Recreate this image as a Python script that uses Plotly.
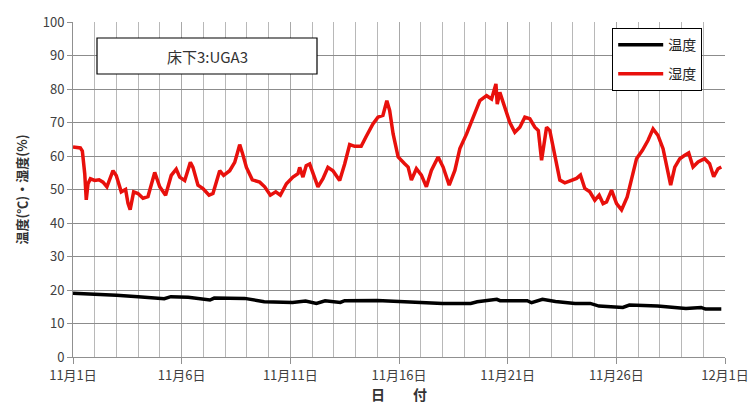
import plotly.graph_objects as go

# Days since 11/1 (0 = 11月1日, 30 = 12月1日)
hum_days = [0, 0.34, 0.43, 0.54, 0.61, 0.69, 0.8, 1.0, 1.2, 1.38, 1.56, 1.84, 1.99, 2.22, 2.42, 2.53, 2.63, 2.79, 2.99,
            3.22, 3.45, 3.76, 3.99, 4.26, 4.52, 4.75, 4.91, 5.14, 5.4, 5.52, 5.75, 5.98, 6.26, 6.44, 6.75, 6.93,
            7.21, 7.44, 7.59, 7.67, 7.79, 7.98, 8.25, 8.59, 8.82, 9.08, 9.33, 9.54, 9.82, 10.12, 10.35, 10.43,
            10.58, 10.73, 10.89, 11.07, 11.27, 11.5, 11.73, 11.96, 12.27, 12.5, 12.73, 12.96, 13.26, 13.49,
            13.8, 14.03, 14.26, 14.44, 14.57, 14.73, 14.96, 15.26, 15.42, 15.57, 15.8, 16.03, 16.26, 16.49,
            16.8, 17.03, 17.31, 17.57, 17.8, 18.11, 18.41, 18.57, 18.72, 19.03, 19.26, 19.46, 19.52, 19.64,
            19.87, 20.1, 20.33, 20.56, 20.79, 21.02, 21.25, 21.41, 21.56, 21.79, 21.94, 22.17, 22.4, 22.63,
            22.94, 23.17, 23.35, 23.55, 23.78, 24.01, 24.21, 24.39, 24.55, 24.78, 25.01, 25.24, 25.5, 25.74,
            25.93, 26.2, 26.46, 26.69, 26.92, 27.15, 27.34, 27.5, 27.69, 27.92, 28.15, 28.33, 28.53, 28.76,
            29.06, 29.29, 29.48, 29.68, 29.83]
humidity = [62.7, 62.4, 61.5, 54.7, 46.9, 51.7, 53.2, 52.7, 52.9, 52.2, 50.8, 55.6, 54.2, 49.3, 50.0, 45.9, 44.0,
            49.3, 48.8, 47.4, 47.9, 55.1, 50.8, 48.3, 54.2, 56.1, 53.7, 52.7, 58.1, 56.6, 51.3, 50.3, 48.3, 48.8,
            55.6, 54.2, 55.6, 58.1, 61.5, 63.4, 61.0, 56.6, 52.9, 52.2, 50.8, 48.3, 49.3, 48.3, 51.7, 53.7, 54.7,
            56.6, 53.7, 57.1, 57.6, 54.2, 50.8, 53.2, 56.6, 55.6, 52.7, 57.6, 63.4, 62.9, 62.9, 65.8,
            69.6, 71.6, 72.1, 76.5, 73.6, 66.6, 59.7, 57.7, 56.7, 52.8, 56.2, 54.3, 50.8, 55.7,
            59.7, 56.7, 51.3, 55.7, 62.2, 66.6, 71.6, 73.6, 76.5, 78.0, 77.0, 81.5, 75.5, 79.0,
            74.6, 70.0, 67.1, 68.6, 71.6, 71.1, 68.6, 67.6, 58.7, 68.6, 67.6, 60.7, 52.8, 52.0,
            52.6, 53.3, 54.3, 50.3, 49.3, 46.8, 48.3, 45.8, 46.3, 49.8, 45.8, 43.9, 47.8, 54.8,
            59.2, 61.7, 64.7, 68.1, 66.1, 62.2, 55.7, 51.3, 56.7, 59.2, 60.2, 60.9, 56.7, 58.2,
            59.2, 57.7, 53.8, 56.2, 56.7]

temp_days = [0, 1.0, 2.0, 3.0, 4.2, 4.5, 5.3, 6.3, 6.5, 7.9, 8.8, 10.1, 10.7, 11.2, 11.6, 12.3, 12.5, 14.0,
             15.3, 16.26, 17.0, 18.3, 18.6, 19.5, 19.65, 20.9, 21.1, 21.6, 22.2, 23.1, 23.8, 24.2, 25.3, 25.6,
             26.9, 28.2, 28.9, 29.1, 29.83]
temperature = [19.0, 18.8, 18.4, 18.0, 17.4, 18.0, 17.8, 17.0, 17.6, 17.5, 16.5, 16.3, 16.7, 16.0, 16.8, 16.3, 16.8, 16.9,
               16.5, 16.0, 16.0, 16.0, 16.5, 17.2, 16.8, 16.8, 16.2, 17.2, 16.6, 16.0, 16.0, 15.2, 14.8, 15.5,
               15.2, 14.5, 14.8, 14.3, 14.3]

tick_days = [0, 5, 10, 15, 20, 25, 30]
tick_labels = ["11月1日", "11月6日", "11月11日", "11月16日", "11月21日", "11月26日", "12月1日"]
y_ticks = [0, 10, 20, 30, 40, 50, 60, 70, 80, 90, 100]

FONT = "Noto Sans CJK JP"

fig = go.Figure()
fig.add_trace(go.Scatter(x=temp_days, y=temperature, mode="lines", name="温度",
                         line=dict(color="black", width=3.5), legendgroup="a"))
fig.add_trace(go.Scatter(x=hum_days, y=humidity, mode="lines", name="湿度",
                         line=dict(color="#e8100c", width=3.5), legendgroup="b"))

fig.update_layout(
    width=750, height=411,
    margin=dict(l=73, r=25, t=22, b=54, autoexpand=False),
    paper_bgcolor="white", plot_bgcolor="white",
    font=dict(family=FONT, size=13, color="#404040"),
    showlegend=True,
    legend=dict(x=0.827, y=0.982, xanchor="left", yanchor="top",
                bordercolor="black", borderwidth=1, bgcolor="white",
                font=dict(family=FONT, size=14, color="#222"),
                tracegroupgap=8, traceorder="grouped", itemwidth=45),
    xaxis=dict(range=[0, 30], tickmode="array", tickvals=tick_days, ticktext=tick_labels,
               showgrid=True, gridcolor="#a8a8a8", gridwidth=1,
               minor=dict(dtick=1, showgrid=True, gridcolor="#b8b8b8", gridwidth=1),
               showline=True, linecolor="#909090", linewidth=1,
               ticks="outside", ticklen=6, tickcolor="#909090",
               tickfont=dict(size=13, color="#404040"), zeroline=False, automargin=False,
               title=dict(text="<b>日　　付</b>", font=dict(size=14, color="#333"), standoff=6)),
    yaxis=dict(range=[0, 100], tickvals=y_ticks,
               showgrid=True, gridcolor="#8c8c8c", gridwidth=1,
               showline=True, linecolor="#909090", linewidth=1,
               ticks="outside", ticklen=5, tickcolor="#909090",
               tickfont=dict(size=13, color="#404040"), zeroline=False, automargin=False,
               title=dict(text="<b>温度(℃)・湿度(%)</b>", font=dict(size=13, color="#333"), standoff=12)),
)

fig.add_shape(type="rect", xref="paper", yref="paper",
              x0=(97 - 73) / 652, x1=(317 - 73) / 652, y0=(357 - 74) / 335, y1=(357 - 38) / 335,
              line=dict(color="black", width=1.2), fillcolor="white", layer="above")
fig.add_annotation(x=(207 - 73) / 652, y=(357 - 56) / 335, xref="paper", yref="paper",
                   xanchor="center", yanchor="middle", text="床下3:UGA3", showarrow=False,
                   font=dict(family=FONT, size=15, color="#333"))

fig.write_html("out.html", config={"displayModeBar": False},
               post_script="document.body.style.margin='0';")
